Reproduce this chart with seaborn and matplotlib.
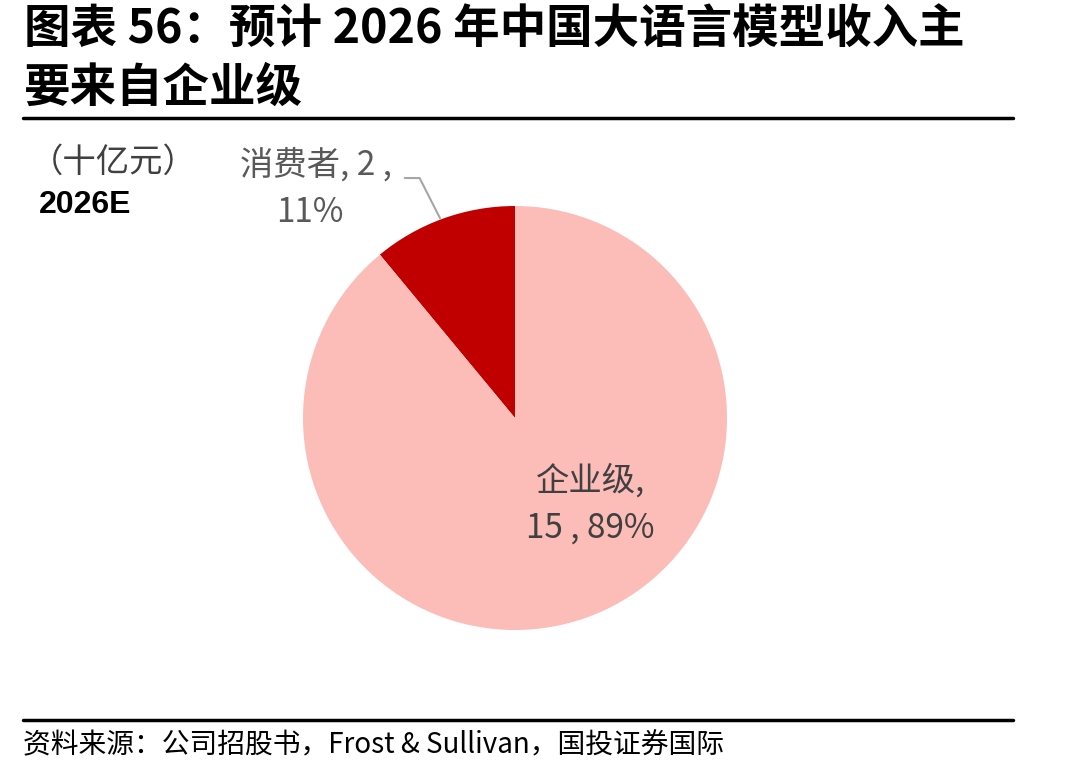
# pie: China LLM revenue 2026E by customer type

import matplotlib
matplotlib.use('Agg')
import matplotlib.pyplot as plt
import seaborn as sns

categories = ['消费者', '企业级']
values = [2, 15]          # 十亿元
shares = [11, 89]         # %
colors = ['#C00000', '#FCBCB7']

title_lines = ['图表 56：预计 2026 年中国大语言模型收入主', '要来自企业级']
unit = '（十亿元）'
year = '2026E'
source = '资料来源：公司招股书，Frost & Sullivan，国投证券国际'

sns.set_theme(style='white')
plt.rcParams['font.family'] = ['Noto Sans CJK SC', 'DejaVu Sans']

fig = plt.figure(figsize=(10.88, 7.73), dpi=100)

# header / footer
fig.text(0.022, 0.961, title_lines[0], fontsize=33.5, fontweight='bold',
         va='center', color='black')
fig.text(0.022, 0.886, title_lines[1], fontsize=33.5, fontweight='bold',
         va='center', color='black')
fig.add_artist(plt.Line2D([0.021, 0.931], [0.847, 0.847], color='black', lw=2.5))
fig.add_artist(plt.Line2D([0.021, 0.931], [0.069, 0.069], color='black', lw=2.5))
fig.text(0.021, 0.036, source, fontsize=20, va='center', color='black')
fig.text(0.027, 0.79, unit, fontsize=24, va='center', color='#404040')
fig.text(0.036, 0.735, year, fontsize=23, fontweight='bold', va='center',
         family=['Liberation Sans', 'DejaVu Sans'], color='black')

# pie
ax = fig.add_axes([0.2785, 0.185, 0.3897, 0.5485])
wedges, _ = ax.pie(shares, colors=colors, startangle=90, counterclock=True,
                   radius=1.0, wedgeprops=dict(linewidth=0))
ax.set_xlim(-1, 1)
ax.set_ylim(-1, 1)
ax.set_aspect('equal')
ax.axis('off')

# labels
ax.text(0.355, -0.41, f'{categories[1]},\n{values[1]} , {shares[1]}%',
        ha='center', va='center', fontsize=24, color='#404040', linespacing=1.45)
ax.text(-0.94, 1.19, f'{categories[0]}, {values[0]} ,', ha='center', va='center',
        fontsize=24, color='#595959')
ax.text(-0.97, 0.97, f'{shares[0]}%', ha='center', va='center',
        fontsize=24, color='#595959')
ax.plot([-0.52, -0.45, -0.354], [1.132, 1.132, 0.943], color='#A6A6A6', lw=1.5,
        clip_on=False)

fig.savefig('out.png', dpi=100)
